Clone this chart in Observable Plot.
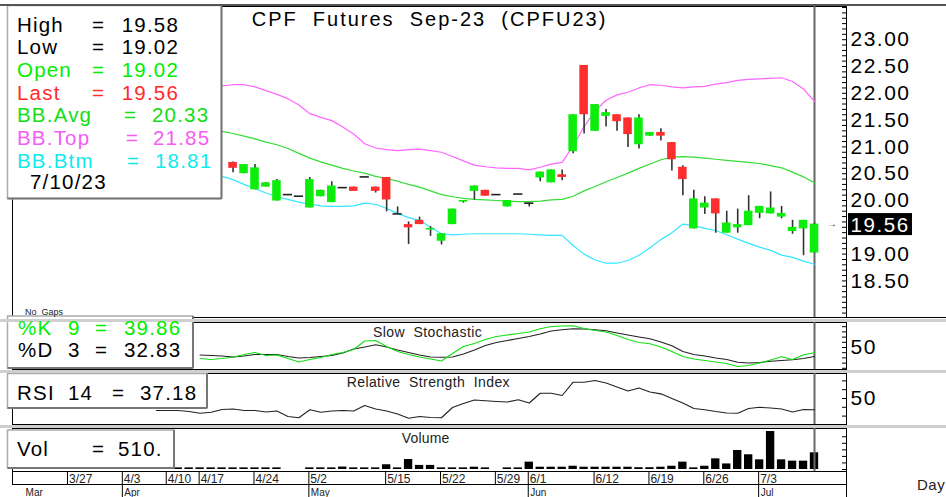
<!DOCTYPE html>
<html><head><meta charset="utf-8">
<script src="https://cdn.jsdelivr.net/npm/d3@7"></script>
<script src="https://cdn.jsdelivr.net/npm/@observablehq/plot@0.6"></script>
<style>
html,body{margin:0;padding:0;background:#fff;}
#chart{position:relative;width:946px;height:497px;overflow:hidden;background:#fff;}
</style></head><body><div id="chart"></div>
<script>
// ---------- DATA ----------
const dates = ["3/21","3/22","3/23","3/24","3/27","3/28","3/29","3/30","3/31",
"4/3","4/4","4/5","4/7","4/10","4/11","4/12","4/17","4/18","4/19","4/20","4/21",
"4/24","4/25","4/26","4/27","4/28","5/2","5/3","5/8","5/9","5/10","5/11","5/12",
"5/15","5/16","5/17","5/18","5/19","5/22","5/23","5/24","5/25","5/26","5/29","5/30","5/31",
"6/1","6/2","6/6","6/7","6/8","6/9","6/12","6/13","6/14","6/15","6/16",
"6/19","6/20","6/21","6/22","6/23","6/26","6/27","6/28","6/29","6/30",
"7/3","7/4","7/5","7/6","7/7","7/10"];
const N = null;
const pad = n => Array(n).fill(N);
const openP  = [...pad(19),20.71,20.50,20.20,20.25,19.99,20.11,20.08,19.86,20.07,19.96,20.24,20.25,20.44,20.25,20.43,19.75,19.55,19.63,19.45,19.24,19.55,19.97,20.17,20.19,20.11,19.88,20.12,19.95,20.42,20.33,20.48,20.91,22.52,21.29,21.57,21.60,21.54,21.04,21.20,21.27,21.08,20.62,19.47,19.86,20.03,19.39,19.49,19.53,19.76,19.75,19.69,19.42,19.47,19.02];
const highP  = [...pad(19),20.72,20.67,20.67,20.33,20.39,20.11,20.08,20.43,20.19,20.35,20.24,20.25,20.44,20.25,20.43,19.88,19.60,19.69,19.51,19.38,19.84,20.00,20.27,20.19,20.11,20.00,20.12,19.95,20.53,20.57,20.57,21.60,22.52,21.79,21.70,21.60,21.54,21.60,21.27,21.34,21.08,20.65,20.19,20.07,20.03,19.80,19.84,20.09,19.89,20.16,19.89,19.63,19.63,19.58];
const lowP   = [...pad(19),20.52,20.50,20.20,20.25,19.99,20.11,20.08,19.86,20.07,19.96,20.24,20.17,20.44,20.14,19.79,19.75,19.18,19.55,19.33,19.17,19.55,19.95,20.01,20.08,20.11,19.88,20.12,19.88,20.35,20.33,20.37,20.87,21.24,21.29,21.37,21.29,20.99,20.96,21.20,21.11,20.55,20.09,19.47,19.74,19.39,19.39,19.39,19.53,19.66,19.75,19.66,19.37,18.97,19.02];
const closeP = [...pad(19),20.60,20.67,20.61,20.33,20.37,20.11,20.08,20.39,20.19,20.27,20.24,20.17,20.44,20.17,20.01,19.75,19.49,19.55,19.48,19.38,19.84,20.00,20.27,20.08,20.11,20.00,20.12,19.95,20.53,20.57,20.43,21.60,21.60,21.79,21.64,21.47,21.23,21.54,21.27,21.20,20.76,20.39,20.03,19.95,19.75,19.58,19.55,19.80,19.89,19.86,19.76,19.50,19.63,19.56];
const bbTop = [...pad(18),22.14,22.16,22.16,22.12,22.05,21.98,21.90,21.78,21.62,21.55,21.49,21.37,21.24,21.06,20.98,20.95,20.93,20.95,20.96,20.93,20.90,20.82,20.74,20.66,20.63,20.61,20.60,20.60,20.57,20.62,20.68,20.71,21.02,21.38,21.67,21.87,21.97,22.02,22.10,22.16,22.15,22.12,22.10,22.12,22.13,22.17,22.20,22.24,22.26,22.27,22.28,22.29,22.22,22.08,21.85];
const bbAvg = [...pad(18),21.29,21.25,21.20,21.15,21.09,21.04,20.97,20.88,20.79,20.72,20.66,20.60,20.55,20.51,20.45,20.41,20.36,20.30,20.25,20.18,20.11,20.07,20.04,20.02,20.01,20.00,19.99,19.98,19.98,19.99,20.01,20.02,20.08,20.18,20.26,20.35,20.43,20.51,20.60,20.68,20.76,20.81,20.82,20.81,20.79,20.77,20.75,20.73,20.71,20.69,20.65,20.61,20.53,20.44,20.33];
const bbBtm = [...pad(18),20.45,20.39,20.30,20.22,20.14,20.07,20.02,19.97,19.93,19.90,19.89,19.89,19.90,19.95,19.93,19.85,19.76,19.68,19.63,19.50,19.38,19.36,19.37,19.38,19.38,19.38,19.38,19.38,19.37,19.36,19.35,19.35,19.16,19.00,18.89,18.83,18.83,18.88,18.98,19.12,19.27,19.40,19.56,19.53,19.48,19.44,19.36,19.28,19.20,19.13,19.07,18.98,18.94,18.87,18.81];
const stochK = [...pad(16),28.8,26.9,28.8,31.3,36.5,40.4,34.6,35.6,28.8,22.1,26.9,30.8,36.5,40.4,46.2,62.5,63.5,51.9,42.3,36.5,31.7,27.9,24.0,38.5,51.9,57.7,65.4,71.2,74.0,76.9,79.8,86.0,90.4,91.3,91.7,86.5,82.7,79.8,73.1,65.4,59.6,57.1,51.0,42.3,32.7,27.9,25.0,22.1,19.2,13.5,15.4,20.2,26.0,32.1,26.9,36.0,39.86];
const stochD = [...pad(16),35.6,34.6,33.7,31.7,33.7,36.5,36.5,36.5,32.7,29.8,30.8,32.7,34.6,39.4,47.1,51.0,55.2,51.0,45.2,40.4,35.6,31.7,31.3,31.7,37.5,45.2,53.8,59.6,63.5,67.3,71.2,76.0,81.7,84.0,86.0,85.6,84.2,82.1,77.9,74.0,70.2,66.7,60.6,53.3,42.3,36.5,33.7,29.8,26.9,21.7,20.2,21.2,23.7,25.0,26.3,28.8,32.83];
const rsi = [...pad(12),36.4,36.4,36.4,35.2,33.3,34.4,37.5,38.1,36.4,36.4,34.7,35.8,29.6,28.1,37.2,34.4,35.8,36.4,35.8,42.0,38.1,35.8,32.4,27.6,29.6,28.4,28.1,39.8,44.3,48.3,47.4,46.6,46.0,48.5,44.9,56.0,56.0,53.4,68.5,68.5,70.4,67.6,63.1,58.5,61.9,57.4,55.3,50.0,44.9,38.6,37.2,35.2,33.5,33.3,38.6,40.0,39.2,38.1,34.7,37.5,37.18];
const volume = [...pad(14),50,50,50,50,50,50,50,50,50,50,0,0,50,50,50,75,50,50,50,145,50,305,125,125,50,50,50,70,50,0,50,50,225,70,70,70,100,70,70,70,70,70,55,55,70,100,225,50,100,325,170,580,450,295,1160,295,255,255,510];

// 19.50 is covered by the last-price box in the reference, so it is not labelled
const priceTicks = [18.5,19,20,20.5,21,21.5,22,22.5,23];
const weekLabels = ["3/27","4/3","4/10","4/17","4/24","5/2","5/15","5/22","5/29","6/1","6/12","6/19","6/26","7/3"];
const monthLabels = ["Mar","Apr","May","Jun","Jul"];
const monthStarts = ["3/21","4/3","5/2","6/1","7/3"];
const title = "CPF  Futures  Sep-23  (CPFU23)";
const asOf = "7/10/23";

// ---------- SETUP ----------
const FONT = '"Liberation Sans", Arial, Helvetica, sans-serif';
const UP = "#0ced0c", DOWN = "#ff2e2e";
const W = 946, ML = 12, MR = 100;
const last = dates.length - 1;
const xScale = {type: "linear", domain: [dates.indexOf("3/27"), dates.indexOf("7/10")], range: [68, 814], axis: null};
const chart = document.getElementById("chart");
const series = arr => arr.map((v, i) => ({i, v})).filter(d => d.v != null);
const candles = dates.map((d, i) => ({i, o: openP[i], h: highP[i], l: lowP[i], c: closeP[i]})).filter(d => d.o != null);
const bodies = candles.filter(d => d.o !== d.c);
const flats = candles.filter(d => d.o === d.c);
const baseStyle = {fontFamily: FONT, fontSize: "21px", letterSpacing: "1.5px", background: "transparent", overflow: "visible"};

function place(svg, top) {
  svg.style.position = "absolute"; svg.style.left = "0px"; svg.style.top = top + "px";
  chart.appendChild(svg); return svg;
}
const minorTicks = (opts) => Plot.axisY({anchor: "left", frameAnchor: "right", tickSize: 4, fill: "none", stroke: "#000", label: null, ...opts});

// ---------- MAIN PRICE PANEL ----------
const main = place(Plot.plot({
  width: W, height: 318, marginLeft: ML, marginRight: MR, marginTop: 6, marginBottom: 1,
  style: baseStyle,
  x: xScale,
  y: {domain: [18.5, 23], range: [280.4, 39.2], axis: null},
  marks: [
    Plot.frame({stroke: "#000"}),
    Plot.ruleX([last], {stroke: "#666", strokeWidth: 2}),
    Plot.line(series(bbTop), {x: "i", y: "v", stroke: "#ff66ff", strokeWidth: 1.2}),
    Plot.line(series(bbAvg), {x: "i", y: "v", stroke: "#33dd33", strokeWidth: 1.2}),
    Plot.line(series(bbBtm), {x: "i", y: "v", stroke: "#33e6ff", strokeWidth: 1.2}),
    Plot.ruleX(candles, {x: "i", y1: "l", y2: "h", stroke: "#333", strokeWidth: 1.6}),
    Plot.rect(bodies, {x1: d => d.i - 0.39, x2: d => d.i + 0.39, y1: "o", y2: "c", fill: d => d.c > d.o ? UP : DOWN}),
    Plot.ruleY(flats, {y: "c", x1: d => d.i - 0.42, x2: d => d.i + 0.42, stroke: "#222", strokeWidth: 1.6}),
    Plot.axisY({anchor: "right", ticks: priceTicks, tickSize: 0, tickPadding: 4, tickFormat: d => d.toFixed(2), fill: "#000", label: null}),
    minorTicks({ticks: d3.range(179, 237).map(v => v / 10)}),
    Plot.text([closeP[last]], {y: d => d, frameAnchor: "right", text: () => "→", dx: -8, fontSize: 10, fill: "#333"})
  ]
}), 0);

// ---------- STOCHASTIC ----------
const stoch = place(Plot.plot({
  width: W, height: 52, marginLeft: ML, marginRight: MR, marginTop: 4, marginBottom: 1,
  style: baseStyle, x: xScale,
  y: {domain: [0, 100], range: [55, 3], axis: null},
  marks: [
    Plot.frame({stroke: "#000"}),
    Plot.ruleX([last], {stroke: "#666", strokeWidth: 2}),
    Plot.line(series(stochD), {x: "i", y: "v", stroke: "#222", strokeWidth: 1.1}),
    Plot.line(series(stochK), {x: "i", y: "v", stroke: "#11e011", strokeWidth: 1.1}),
    Plot.axisY({anchor: "right", ticks: [50], tickSize: 0, tickPadding: 4, fill: "#000", label: null}),
    minorTicks({ticks: d3.range(10, 100, 10)})
  ]
}), 318);

// ---------- RSI ----------
const rsiPlot = place(Plot.plot({
  width: W, height: 56, marginLeft: ML, marginRight: MR, marginTop: 3, marginBottom: 2,
  style: baseStyle, x: xScale,
  y: {domain: [30, 70], range: [45.6, 10.4], axis: null},
  marks: [
    Plot.frame({stroke: "#000"}),
    Plot.ruleX([last], {stroke: "#666", strokeWidth: 2}),
    Plot.line(series(rsi), {x: "i", y: "v", stroke: "#222", strokeWidth: 1.1}),
    Plot.axisY({anchor: "right", ticks: [50], tickSize: 0, tickPadding: 4, fill: "#000", label: null}),
    minorTicks({ticks: d3.range(30, 80, 10)})
  ]
}), 370);

// ---------- VOLUME ----------
const vol = place(Plot.plot({
  width: W, height: 46, marginLeft: ML, marginRight: MR, marginTop: 2, marginBottom: 1,
  style: baseStyle, x: xScale,
  y: {domain: [0, 1000], range: [43, 10.26], axis: null},
  marks: [
    Plot.frame({stroke: "#000"}),
    Plot.rect(series(volume).filter(d => d.v > 0), {x1: d => d.i - 0.38, x2: d => d.i + 0.38, y1: 0, y2: "v", fill: "#000"}),
    Plot.ruleX([last], {stroke: "#666", strokeWidth: 2}),
    minorTicks({ticks: d3.range(0, 1200, 200)})
  ]
}), 426);

// ---------- DATE AXIS ----------
const dax = place(Plot.plot({
  width: W, height: 26, marginLeft: ML, marginRight: MR, marginTop: 0, marginBottom: 0,
  style: {...baseStyle, letterSpacing: "0px"}, x: xScale,
  y: {domain: [0, 2], range: [0, 26], axis: null},
  marks: [
    Plot.ruleY([0, 1], {stroke: "#000"}),
    Plot.ruleX(weekLabels, {x: d => dates.indexOf(d), y1: 0, y2: 1, stroke: "#000", dx: -1}),
    Plot.text(weekLabels, {x: d => dates.indexOf(d), y: 1, text: d => d, textAnchor: "start", lineAnchor: "bottom", dx: 0.5, dy: -1.5, fontSize: 12, fill: "#222"}),
    Plot.ruleX(monthStarts.slice(1), {x: d => dates.indexOf(d), y1: 1, y2: 2, stroke: "#000", dx: -1}),
    Plot.text(monthLabels, {x: (d, i) => dates.indexOf(monthStarts[i]), y: 2, text: d => d, textAnchor: "start", lineAnchor: "bottom", dx: 1, dy: -2, fontSize: 10, fill: "#222"})
  ]
}), 471);

// ---------- OVERLAY (legends, titles, separators) ----------
const ov = d3.create("svg").attr("width", W).attr("height", 497)
  .style("position", "absolute").style("left", "0px").style("top", "0px")
  .style("font-family", FONT);
function txt(x, y, s, size, fill, ls = 1.2) {
  return ov.append("text").attr("x", x).attr("y", y).attr("font-size", size).attr("fill", fill)
    .style("letter-spacing", ls + "px").style("white-space", "pre").text(s);
}
function box(x, y, w, h) {
  ov.append("rect").attr("x", x).attr("y", y).attr("width", w).attr("height", h)
    .attr("fill", "#fff").attr("stroke", "#aaa").attr("stroke-width", 1.5);
  ov.append("line").attr("x1", x + w).attr("x2", x + w).attr("y1", y).attr("y2", y + h).attr("stroke", "#777").attr("stroke-width", 2);
  ov.append("line").attr("x1", x).attr("x2", x + w).attr("y1", y + h).attr("y2", y + h).attr("stroke", "#777").attr("stroke-width", 2);
}
const band = (y) => ov.append("rect").attr("x", 0).attr("y", y).attr("width", W).attr("height", 3).attr("fill", "#cfcfcf");
box(7.5, 5.5, 214, 193);
box(7.5, 316, 185.5, 52);
box(7.5, 373.5, 199.5, 34.5);
box(7.5, 430, 166.5, 38);
ov.append("line").attr("x1", 0).attr("x2", W).attr("y1", 5).attr("y2", 5).attr("stroke", "#555").attr("stroke-width", 2);
ov.append("line").attr("x1", 846).attr("x2", W).attr("y1", 317.5).attr("y2", 317.5).attr("stroke", "#000");
band(319); band(370); band(425);
ov.append("line").attr("x1", 846.5).attr("x2", 846.5).attr("y1", 471).attr("y2", 497).attr("stroke", "#000");
ov.append("line").attr("x1", 12.5).attr("x2", 12.5).attr("y1", 471).attr("y2", 484).attr("stroke", "#000");

// main legend
const fmt = v => v.toFixed(2);
const mainRows = [
  ["High", fmt(highP[last]), "#000", 92, 121.7],
  ["Low", fmt(lowP[last]), "#000", 92, 121.7],
  ["Open", fmt(openP[last]), "#00ee00", 92, 121.7],
  ["Last", fmt(closeP[last]), "#ff2a2a", 92, 121.7],
  ["BB.Avg", fmt(bbAvg[last]), "#14dd14", 124, 152],
  ["BB.Top", fmt(bbTop[last]), "#f45cf4", 126, 153],
  ["BB.Btm", fmt(bbBtm[last]), "#11eaea", 127, 155]
];
mainRows.forEach((r, k) => {
  const y = 31.7 + k * 22.65;
  txt(17, y, r[0], 20.5, r[2]); txt(r[3], y, "=", 20.5, r[2]); txt(r[4], y, r[1], 20.5, r[2]);
});
txt(30, 189.3, asOf, 20.5, "#000");
txt(251.7, 26, title, 20, "#000", 2);
// stoch legend
txt(18, 335, "%K", 20.5, "#00ee00"); txt(68, 335, "9", 20.5, "#00ee00"); txt(95, 335, "=", 20.5, "#00ee00"); txt(124, 335, fmt(stochK[last]), 20.5, "#00ee00");
txt(18, 356.7, "%D", 20.5, "#000"); txt(68, 356.7, "3", 20.5, "#000"); txt(95, 356.7, "=", 20.5, "#000"); txt(124, 356.7, fmt(stochD[last]), 20.5, "#000");
// rsi legend
txt(17, 400, "RSI", 20.5, "#000"); txt(68, 400, "14", 20.5, "#000"); txt(112, 400, "=", 20.5, "#000"); txt(140, 400, fmt(rsi[last]), 20.5, "#000");
// vol legend
txt(17, 455.7, "Vol", 20.5, "#000"); txt(92, 455.7, "=", 20.5, "#000"); txt(118, 455.7, volume[last] + ".", 20.5, "#000");
// panel titles
txt(373, 336.7, "Slow  Stochastic", 14, "#222", 0.4);
txt(346.7, 387.3, "Relative  Strength  Index", 14, "#222", 0.4);
txt(401.7, 443.3, "Volume", 14, "#222", 0.2);
txt(25, 315, "No  Gaps", 9, "#222", 0);
txt(917, 489.5, "Day", 15, "#222", 0.5);
// last price highlight
const yLast = main.scale("y").apply(closeP[last]);
ov.append("rect").attr("x", 848).attr("y", yLast - 10.5).attr("width", 64).attr("height", 22).attr("fill", "#000");
txt(850.5, yLast + 8.3, fmt(closeP[last]), 20.5, "#fff", 1.6);

chart.appendChild(ov.node());
</script></body></html>
